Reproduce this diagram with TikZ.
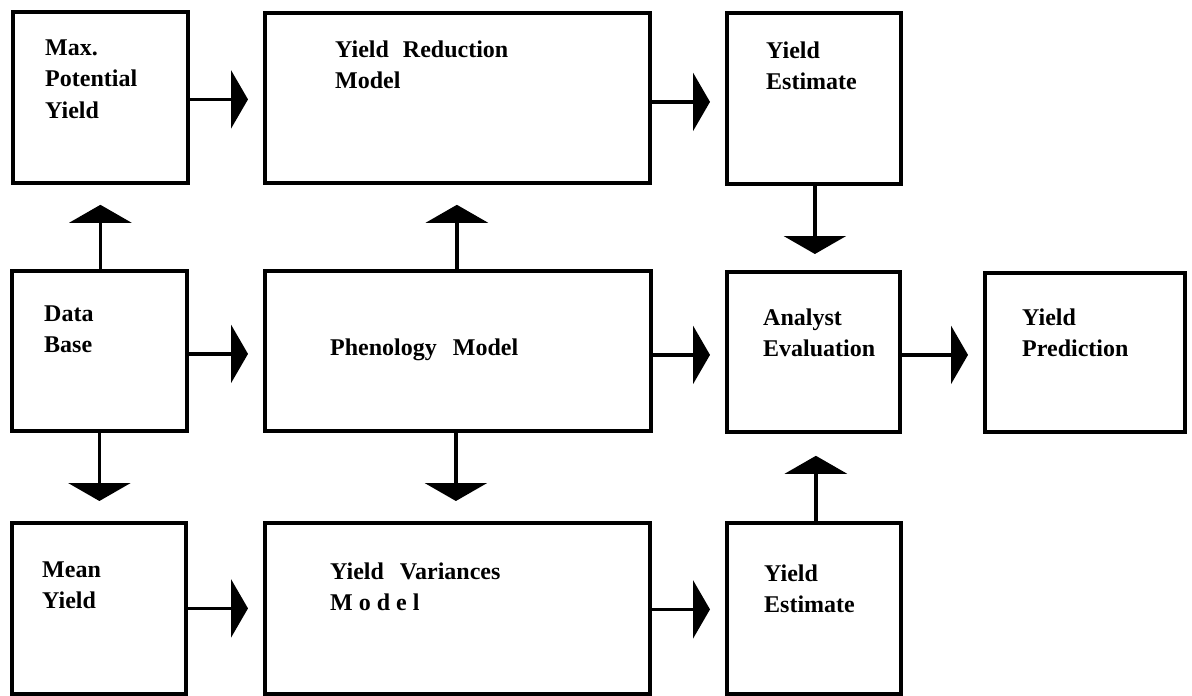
\documentclass[tikz,border=0pt]{standalone}
\usepackage{fontspec}
\setmainfont{Liberation Serif}
\usetikzlibrary{arrows.meta}
\begin{document}
\begin{tikzpicture}[x=1pt,y=-1pt,
  box/.style={draw, line width=3.8pt, inner sep=0pt, anchor=north west},
  lbl/.style={anchor=base west, inner sep=0pt, font=\fontsize{24}{31.5}\selectfont\bfseries},
  harr/.style={line width=3.8pt, -{Triangle[width=58pt,length=17pt]}, shorten >=15pt},
  varr/.style={line width=3.8pt, -{Triangle[width=62pt,length=18pt]}, shorten >=20pt}]
\useasboundingbox (0,0) rectangle (1192,696);
% boxes
\node[box, minimum width=175pt, minimum height=171pt] (max) at (11,10) {};
\node[box, minimum width=385pt, minimum height=170pt] (yr) at (263,11) {};
\node[box, minimum width=174pt, minimum height=171pt] (yet) at (725,11) {};
\node[box, minimum width=175pt, minimum height=160pt] (data) at (10,269) {};
\node[box, minimum width=386pt, minimum height=160pt] (phen) at (263,269) {};
\node[box, minimum width=173pt, minimum height=160pt] (anal) at (725,270) {};
\node[box, minimum width=200pt, minimum height=159pt] (pred) at (983,271) {};
\node[box, minimum width=174pt, minimum height=171pt] (mean) at (10,521) {};
\node[box, minimum width=385pt, minimum height=171pt] (yv) at (263,521) {};
\node[box, minimum width=174pt, minimum height=171pt] (yeb) at (725,521) {};
% texts
\node[lbl] (maxt) at (45,55) {\begin{tabular}[t]{@{}l@{}}Max.\\Potential\\Yield\end{tabular}};
\node[lbl] (yrt) at (335,57) {\begin{tabular}[t]{@{}l@{}}Yield\hspace{14pt}Reduction\\Model\end{tabular}};
\node[lbl] (yett) at (766,58) {\begin{tabular}[t]{@{}l@{}}Yield\\Estimate\end{tabular}};
\node[lbl] (datat) at (44,321) {\begin{tabular}[t]{@{}l@{}}Data\\Base\end{tabular}};
\node[lbl] (phent) at (330,355) {Phenology\hspace{16pt}Model};
\node[lbl] (analt) at (763,325) {\begin{tabular}[t]{@{}l@{}}Analyst\\Evaluation\end{tabular}};
\node[lbl] (predt) at (1022,325) {\begin{tabular}[t]{@{}l@{}}Yield\\Prediction\end{tabular}};
\node[lbl] (meant) at (42,577) {\begin{tabular}[t]{@{}l@{}}Mean\\Yield\end{tabular}};
\node[lbl] (yvt) at (330,579) {\begin{tabular}[t]{@{}l@{}}Yield\hspace{16pt}Variances\\M\hspace{6pt}o\hspace{6pt}d\hspace{6pt}e\hspace{6pt}l\end{tabular}};
\node[lbl] (yebt) at (764,581) {\begin{tabular}[t]{@{}l@{}}Yield\\Estimate\end{tabular}};
% horizontal arrows
\draw[harr] ([yshift=-2pt]max.east) -- ([yshift=-2pt]max.east -| yr.west);
\draw[harr] ([yshift=-4pt]yr.east) -- ([yshift=-4pt]yr.east -| yet.west);
\draw[harr] ([yshift=-3pt]data.east) -- ([yshift=-3pt]data.east -| phen.west);
\draw[harr] ([yshift=-4pt]phen.east) -- ([yshift=-4pt]phen.east -| anal.west);
\draw[harr] ([yshift=-3pt]anal.east) -- ([yshift=-3pt]anal.east -| pred.west);
\draw[harr] (mean.east) -- (mean.east -| yv.west);
\draw[harr] ([yshift=-1pt]yv.east) -- ([yshift=-1pt]yv.east -| yeb.west);
% vertical arrows
\draw[varr] ([xshift=1pt]data.north) -- ([xshift=1pt]data.north |- max.south);
\draw[varr] ([xshift=-1pt]phen.north) -- ([xshift=-1pt]phen.north |- yr.south);
\draw[varr, shorten >=16pt] ([xshift=1pt]yet.south) -- ([xshift=1pt]yet.south |- anal.north);
\draw[varr] (data.south) -- (data.south |- mean.north);
\draw[varr] ([xshift=-2pt]phen.south) -- ([xshift=-2pt]phen.south |- yv.north);
\draw[varr, shorten >=22pt] ([xshift=2pt]yeb.north) -- ([xshift=2pt]yeb.north |- anal.south);
\end{tikzpicture}
\end{document}
